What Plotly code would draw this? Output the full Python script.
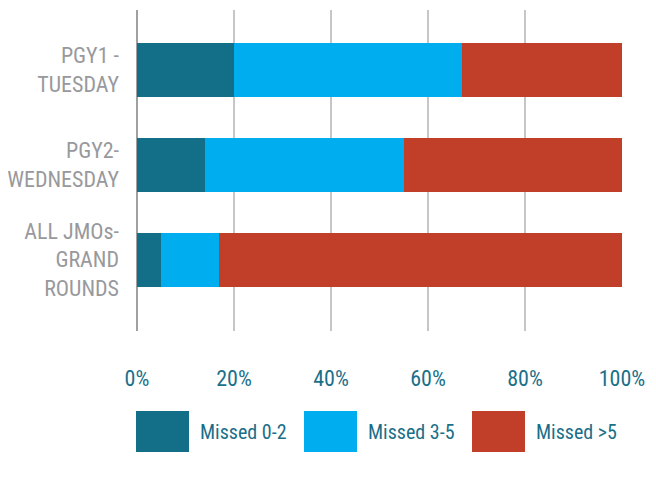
import plotly.graph_objects as go

# ---- data ----
categories = ["PGY1 -<br>TUESDAY", "PGY2-<br>WEDNESDAY", "ALL JMOs-<br>GRAND<br>ROUNDS"]
missed_0_2 = [20, 14, 5]
missed_3_5 = [47, 41, 12]
missed_gt5 = [33, 45, 83]
series_names = ["Missed 0-2", "Missed 3-5", "Missed >5"]
series_colors = ["#136f88", "#00aeef", "#c13f28"]
tick_vals = [0, 20, 40, 60, 80, 100]
tick_text = ["0%", "20%", "40%", "60%", "80%", "100%"]

# ---- layout constants (page pixels; the html body has an 8px margin) ----
OFF = 8
W, H = 656 - OFF, 479 - OFF
PLOT_L, PLOT_R, PLOT_T, PLOT_B = 137 - OFF, 622 - OFF, 10 - OFF, 331 - OFF
ML, MR, MT, MB = PLOT_L, W - PLOT_R, PLOT_T, H - PLOT_B
PW = PLOT_R - PLOT_L
PH = PLOT_B - PLOT_T
FONT = "Roboto Condensed, Liberation Sans Narrow, DejaVu Sans Condensed, sans-serif"
TEAL = "#1a6f89"
GRAY = "#98999c"

def px_x(x):
    return (x - OFF - PLOT_L) / PW

def px_y(y):
    return (PLOT_B - (y - OFF)) / PH

fig = go.Figure()
for name, vals, col in zip(series_names, [missed_0_2, missed_3_5, missed_gt5], series_colors):
    fig.add_trace(go.Bar(
        y=categories, x=vals, name=name, orientation="h",
        marker=dict(color=col, line=dict(width=0)), width=0.57,
        showlegend=False,
    ))

# custom legend (large swatches), page pixel positions
box_x = [136, 304, 472]
box_w = 53
box_top, box_bot = 411, 452
for bx, name, col in zip(box_x, series_names, series_colors):
    fig.add_shape(type="rect", xref="paper", yref="paper",
                  x0=px_x(bx), x1=px_x(bx + box_w), y0=px_y(box_bot), y1=px_y(box_top),
                  fillcolor=col, line=dict(width=0), layer="above")
    fig.add_annotation(xref="paper", yref="paper", x=px_x(bx + box_w + 9),
                       y=px_y((box_top + box_bot) / 2), text=name, showarrow=False,
                       xanchor="left", yanchor="middle",
                       font=dict(family=FONT, size=20, color=TEAL))

fig.update_layout(
    barmode="stack",
    width=W, height=H,
    margin=dict(l=ML, r=MR, t=MT, b=MB, pad=0, autoexpand=False),
    paper_bgcolor="white", plot_bgcolor="white",
    showlegend=False,
)
fig.update_xaxes(
    range=[0, 100], tickvals=tick_vals, ticktext=tick_text,
    showgrid=True, gridcolor="#c6c6c6", gridwidth=1.5,
    zeroline=True, zerolinecolor="#a0a0a0", zerolinewidth=1.5,
    showline=False, ticks="", ticklabelstandoff=32, automargin=False,
    tickfont=dict(family=FONT, size=22, color=TEAL),
)
fig.update_yaxes(
    type="category", categoryorder="array", categoryarray=categories,
    range=[2.75, -0.63], showgrid=False, zeroline=False, showline=False,
    ticks="", ticklabelstandoff=17, automargin=False,
    tickfont=dict(family=FONT, size=22, color=GRAY),
)

fig.write_html("out.html")
